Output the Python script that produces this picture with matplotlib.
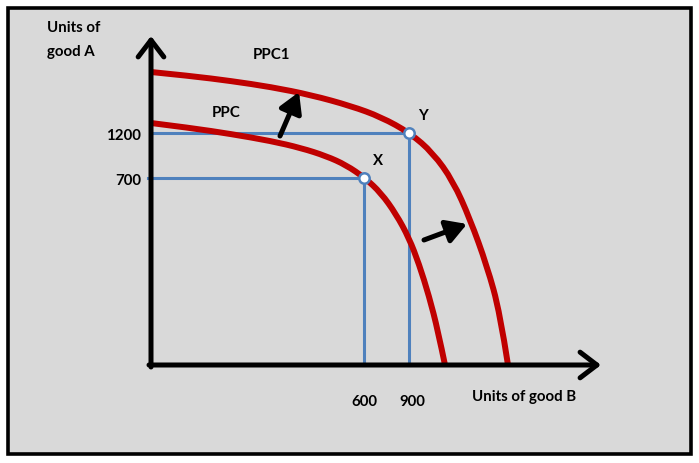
"""Production possibility curve shift diagram (PPC -> PPC1)."""
import matplotlib
matplotlib.use("Agg")
import matplotlib.pyplot as plt
from matplotlib.patches import Rectangle, PathPatch
from matplotlib.path import Path

RED = "#c00000"
BLUE = "#4f81bd"
BG = "#d9d9d9"
plt.rcParams["font.family"] = ["Lato", "DejaVu Sans"]

# curves, in diagram units (good B across, good A up)
ppc_b = [0, 40, 80, 120, 150, 175, 195, 214, 230, 245, 258, 268, 278, 287, 294]
ppc_a = [242, 237, 231, 224, 217, 209, 200, 187, 172, 151, 127, 101, 69, 34, 0]
ppc1_b = [0, 40, 80, 120, 160, 200, 230, 259, 282, 302, 319, 336, 349, 357]
ppc1_a = [293, 289, 284, 278, 270, 259, 248, 232, 212, 184, 146, 99, 52, 0]

# the two marked combinations
point_names = ["X", "Y"]
point_b = [213, 258]
point_a = [187, 232]
point_b_value = [600, 900]
point_a_value = [700, 1200]


def smooth_path(xs, ys):
    """Quadratic-spline path using the read points as control polygon."""
    pts = list(zip(xs, ys))
    verts, codes = [pts[0]], [Path.MOVETO]
    for i in range(1, len(pts) - 1):
        nxt = pts[i + 1] if i == len(pts) - 2 else (
            (pts[i][0] + pts[i + 1][0]) / 2, (pts[i][1] + pts[i + 1][1]) / 2)
        verts += [pts[i], nxt]
        codes += [Path.CURVE3, Path.CURVE3]
    return Path(verts, codes)


fig = plt.figure(figsize=(6.99, 4.63), dpi=100)
ax = fig.add_axes([0, 0, 1, 1])
ax.set_xlim(-151, 548)
ax.set_ylim(-98, 365)
ax.axis("off")

ax.add_patch(Rectangle((-143, -89), 683, 446, facecolor=BG, edgecolor="black",
                       lw=2.6, zorder=0))

# axes with open arrow heads
axis_kw = dict(arrowstyle="->,head_length=0.55,head_width=0.42", lw=3.6,
               color="black", mutation_scale=22, shrinkA=0, shrinkB=0)
ax.annotate("", xy=(0, 329), xytext=(0, -2), arrowprops=axis_kw, zorder=5)
ax.annotate("", xy=(450, 0), xytext=(-2, 0), arrowprops=axis_kw, zorder=5)

# guide lines to the axes
for b, a in zip(point_b, point_a):
    ax.plot([-3 if a < 200 else 1, b], [a, a], color=BLUE, lw=2.2, zorder=2)
    ax.plot([b, b], [0, a], color=BLUE, lw=2.2, zorder=2)

for xs, ys in [(ppc_b, ppc_a), (ppc1_b, ppc1_a)]:
    ax.add_patch(PathPatch(smooth_path(xs, ys), facecolor="none",
                           edgecolor=RED, lw=4.3, capstyle="butt", zorder=3))
ax.plot(point_b, point_a, "o", ms=7.5, mfc="white", mec=BLUE, mew=1.8, zorder=6)

# shift arrows
shift_kw = dict(arrowstyle="-|>,head_length=0.55,head_width=0.32", lw=3.6,
                color="black", mutation_scale=22, shrinkA=0, shrinkB=0)
ax.annotate("", xy=(148, 273), xytext=(129, 229), arrowprops=shift_kw, zorder=4)
ax.annotate("", xy=(316, 141), xytext=(273, 125), arrowprops=shift_kw, zorder=4)

txt = dict(fontsize=10.8, fontweight="bold", color="black")
ax.text(-104, 337, "Units of", ha="left", va="center", **txt)
ax.text(-104, 313, "good A", ha="left", va="center", **txt)
ax.text(321, -32, "Units of good B", ha="left", va="center", **txt)
ax.text(121, 310, "PPC1", ha="center", va="center", **txt)
ax.text(75, 252, "PPC", ha="center", va="center", **txt)
for name, b, a, bv, av in zip(point_names, point_b, point_a,
                              point_b_value, point_a_value):
    ax.text(b + 14, a + 17, name, ha="center", va="center", **txt)
    ax.text(-10, a - 3, str(av), ha="right", va="center", **txt)
    ax.text(b + (0 if bv < 800 else 3), -37, str(bv), ha="center",
            va="center", **txt)

fig.savefig("out.png", dpi=100, facecolor="white")
